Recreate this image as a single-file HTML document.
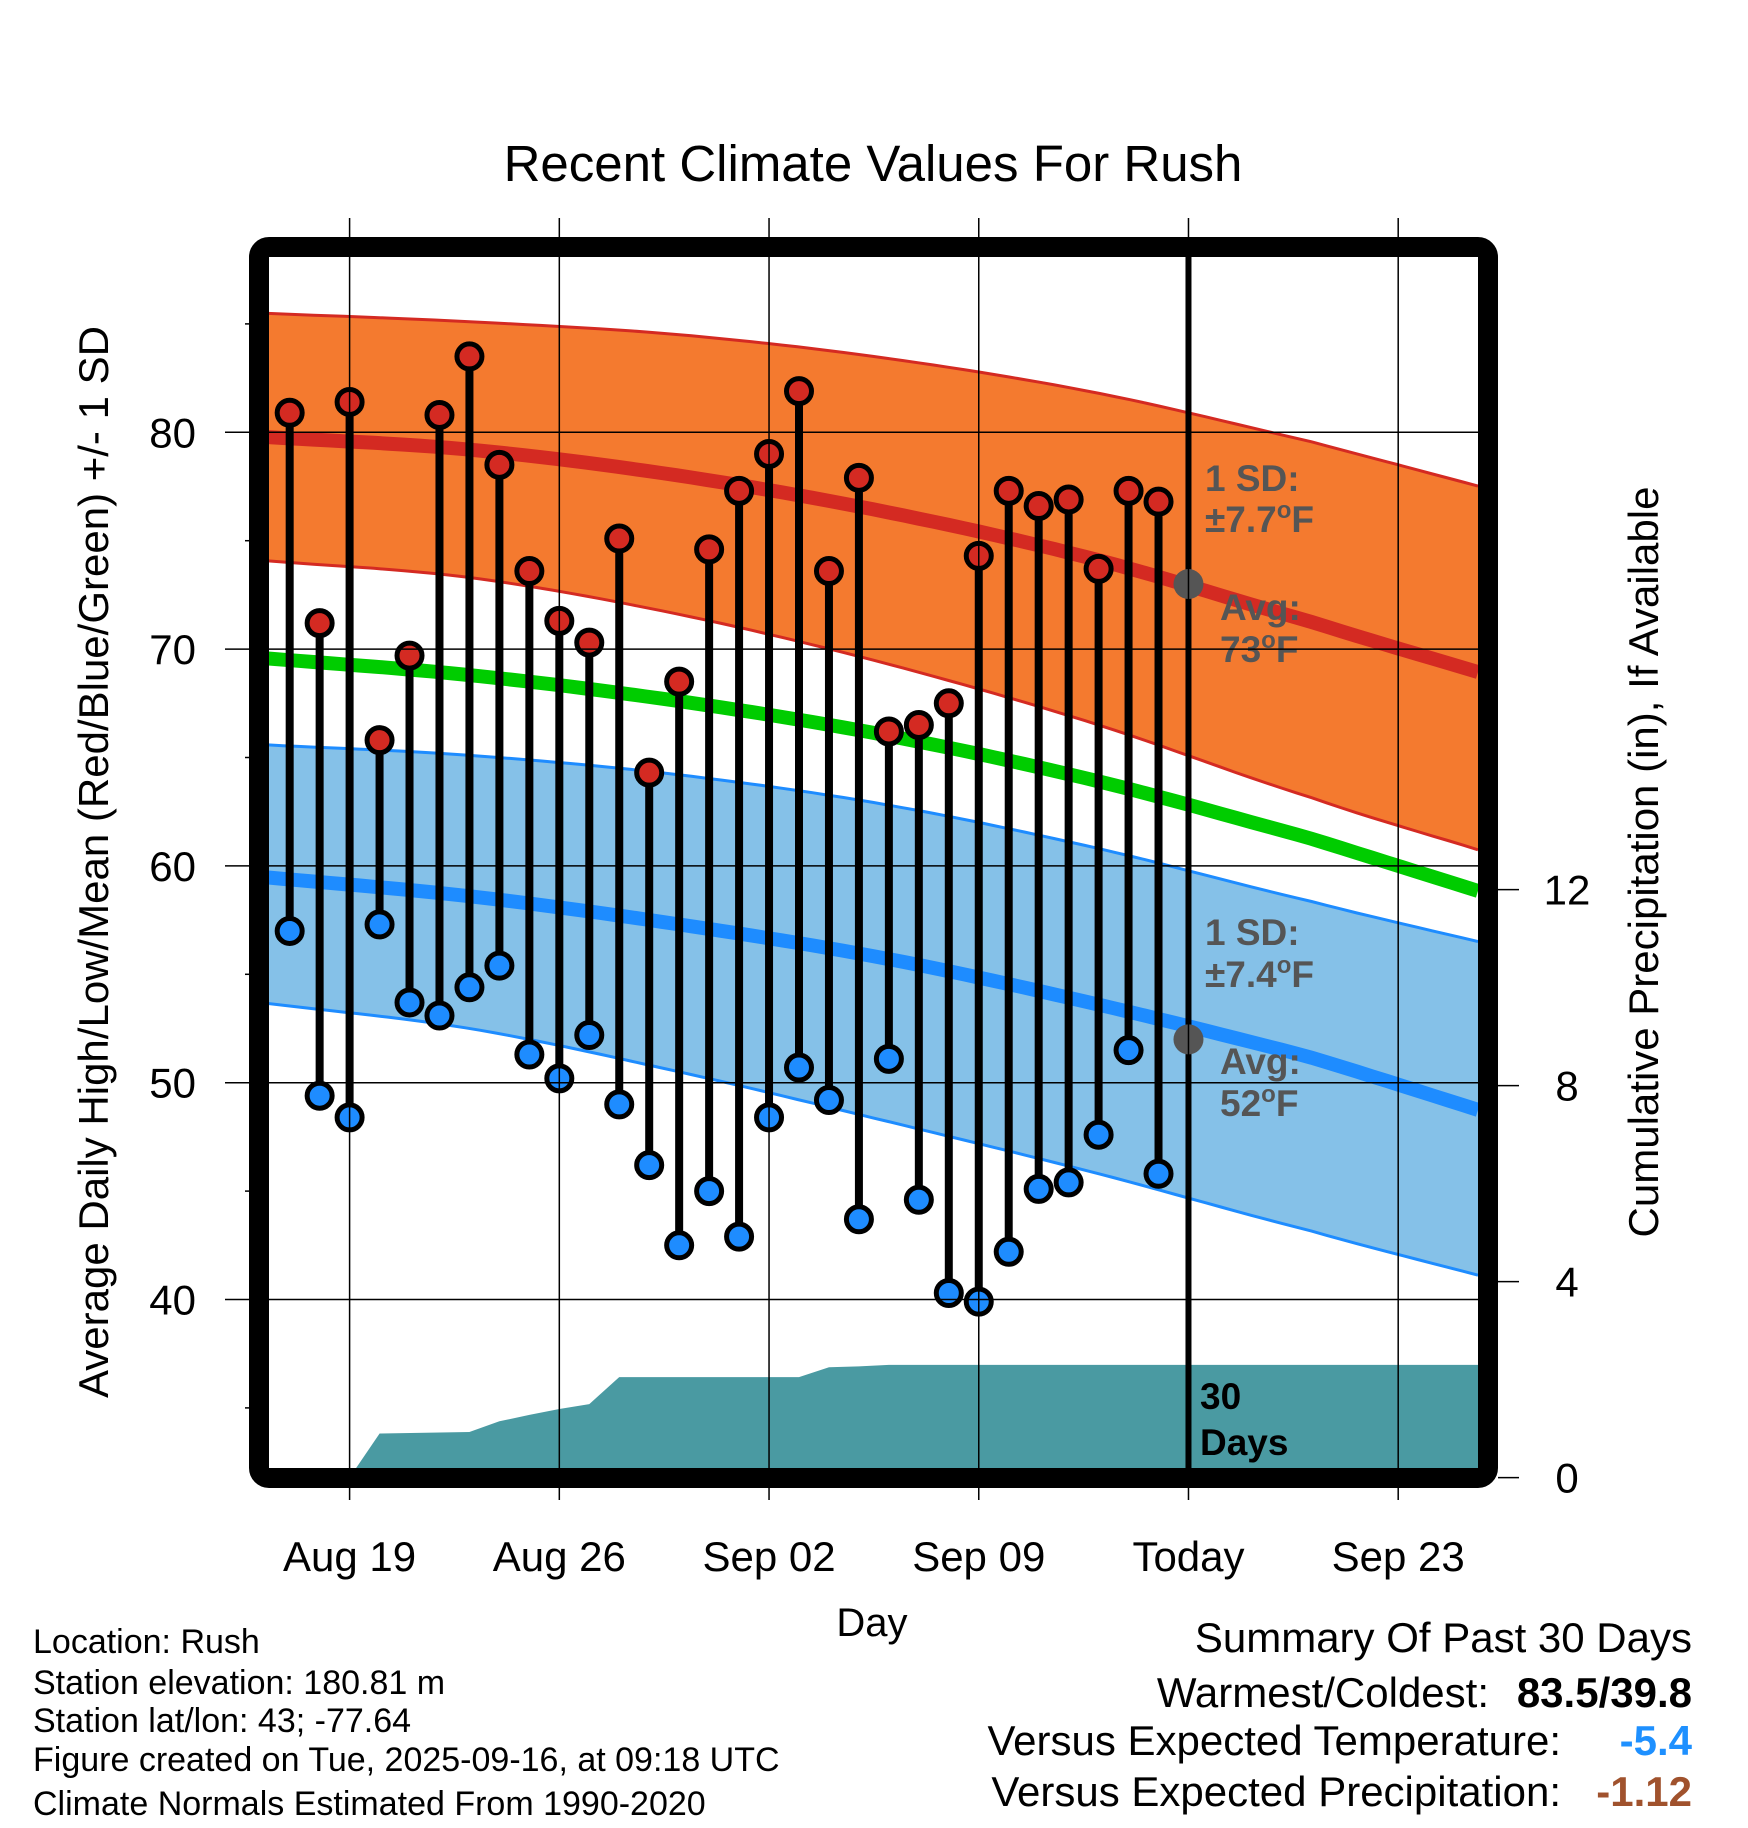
<!DOCTYPE html>
<html><head><meta charset="utf-8"><style>
html,body{margin:0;padding:0;background:#fff}
svg{display:block;font-family:"Liberation Sans",sans-serif}
</style></head><body>
<svg id="c" width="1748" height="1828" viewBox="0 0 1748 1828" xmlns="http://www.w3.org/2000/svg">
<text x="873" y="181" font-size="51" text-anchor="middle">Recent Climate Values For Rush</text>
<g id="plot"></g>
<g id="axes"></g>
<text transform="translate(108,862) rotate(-90)" font-size="42" text-anchor="middle">Average Daily High/Low/Mean (Red/Blue/Green) +/- 1 SD</text>
<text transform="translate(1658,862) rotate(-90)" font-size="42" text-anchor="middle">Cumulative Precipitation (in), If Available</text>
<text x="872" y="1636" font-size="40" text-anchor="middle">Day</text>
<g font-size="34">
<text x="33" y="1653">Location: Rush</text>
<text x="33" y="1694">Station elevation: 180.81 m</text>
<text x="33" y="1732">Station lat/lon: 43; -77.64</text>
<text x="33" y="1771">Figure created on Tue, 2025-09-16, at 09:18 UTC</text>
<text x="33" y="1815">Climate Normals Estimated From 1990-2020</text>
</g>
<g font-size="42" text-anchor="end">
<text x="1692" y="1652">Summary Of Past 30 Days</text>
<text x="1489" y="1707">Warmest/Coldest:</text>
<text x="1692" y="1707" font-weight="bold">83.5/39.8</text>
<text x="1561" y="1755">Versus Expected Temperature:</text>
<text x="1692" y="1755" font-weight="bold" fill="#1e90ff">-5.4</text>
<text x="1561" y="1806">Versus Expected Precipitation:</text>
<text x="1692" y="1806" font-weight="bold" fill="#a0522d">-1.12</text>
</g>
</svg>
<script>
// days relative to Aug 19 (0 = Aug 19)
const normDays=[-3,4,11,18,25,32,38];
const highAvg=[79.8,79.2,78.0,76.3,74.1,71.3,68.8];
const highUp=[85.5,85.1,84.5,83.4,81.8,79.6,77.4];
const highLo=[74.1,73.3,71.6,69.3,66.5,63.2,60.6];
const meanAvg=[69.6,68.8,67.6,66.0,63.9,61.3,58.7];
const lowAvg=[59.5,58.6,57.3,55.7,53.6,51.2,48.6];
const lowUp=[65.6,65.1,64.2,62.8,60.8,58.4,56.4];
const lowLo=[53.7,52.5,50.5,48.2,45.8,43.2,41.0];
const obsStart=-2;
const highs=[80.9,71.2,81.4,65.8,69.7,80.8,83.5,78.5,73.6,71.3,70.3,75.1,64.3,68.5,74.6,77.3,79.0,81.9,73.6,77.9,66.2,66.5,67.5,74.3,77.3,76.6,76.9,73.7,77.3,76.8];
const lows=[57.0,49.4,48.4,57.3,53.7,53.1,54.4,55.4,51.3,50.2,52.2,49.0,46.2,42.5,45.0,42.9,48.4,50.7,49.2,43.7,51.1,44.6,40.3,39.9,42.2,45.1,45.4,47.6,51.5,45.8];
const precipDays=[0,1,4,5,6,7,8,9,15,16,17,18,38];
const precipVals=[0,0.9,0.93,1.15,1.28,1.4,1.5,2.05,2.05,2.25,2.27,2.3,2.3];
const xTickDays=[0,7,14,21,28,35];
const xTickLabels=["Aug 19","Aug 26","Sep 02","Sep 09","Today","Sep 23"];
const yTicks=[40,50,60,70,80];
const y2Ticks=[0,4,8,12];
const todayDay=28, avgHighToday=73, avgLowToday=52;

const L=268,R=1478,T=256,B=1468;
const X=d=>349.6+d*29.96;
const Y=v=>432.3+(80-v)*21.68;
const Y2=p=>1477.6-p*49;
const NS='http://www.w3.org/2000/svg';
const plot=document.getElementById('plot'), axes=document.getElementById('axes');
function mk(tag,at,parent){const e=document.createElementNS(NS,tag);for(const k in at)e.setAttribute(k,at[k]);(parent||plot).appendChild(e);return e;}
function curve(arr){const dL=(L-349.6)/29.96,dR=(R-349.6)/29.96;const pts=[];
 for(let i=0;i<=80;i++){const d=dL+(dR-dL)*i/80;pts.push([X(d),Y(interp(d,arr))]);}return pts;}
function interp(d,arr){let i=0;while(i<normDays.length-2&&d>normDays[i+1])i++;
 const a=normDays[i],b=normDays[i+1];const t=(d-a)/(b-a);
 const n=arr.length;
 const p1=arr[i],p2=arr[i+1];
 const p0=i>0?arr[i-1]:2*p1-p2, p3=i+2<n?arr[i+2]:2*p2-p1;
 return 0.5*((2*p1)+(-p0+p2)*t+(2*p0-5*p1+4*p2-p3)*t*t+(-p0+3*p1-3*p2+p3)*t*t*t);}
const ps=p=>p.map(q=>q[0].toFixed(1)+','+q[1].toFixed(1)).join(' ');
const defs=mk('clipPath',{id:'clip'});mk('rect',{x:L,y:T,width:R-L,height:B-T},defs);
const g=mk('g',{'clip-path':'url(#clip)'});


let up=curve(highUp),lo=curve(highLo);
let e=mk('polygon',{points:ps(up.concat(lo.slice().reverse())),fill:'#f47a2f'},g);


e=mk('polyline',{points:ps(up),fill:'none',stroke:'#d42a22','stroke-width':3},g);


e=mk('polyline',{points:ps(lo),fill:'none',stroke:'#d42a22','stroke-width':3},g);


up=curve(lowUp);lo=curve(lowLo);
e=mk('polygon',{points:ps(up.concat(lo.slice().reverse())),fill:'#85c1e8'},g);


e=mk('polyline',{points:ps(up),fill:'none',stroke:'#1e8cff','stroke-width':3},g);


e=mk('polyline',{points:ps(lo),fill:'none',stroke:'#1e8cff','stroke-width':3},g);


const pp=[[X(precipDays[0]),Y2(0)]];precipDays.forEach((d,i)=>pp.push([X(d),Y2(precipVals[i])]));
pp.push([X(precipDays[precipDays.length-1]),Y2(0)]);
e=mk('polygon',{points:ps(pp),fill:'#4a9aa2'},g);


yTicks.forEach(v=>{const l=mk('line',{x1:225,x2:R,y1:Y(v),y2:Y(v),stroke:'#000','stroke-width':1.5},axes);

});
xTickDays.forEach(d=>{const l=mk('line',{x1:X(d),x2:X(d),y1:218,y2:1500,stroke:'#000','stroke-width':1.5},plot);

});
e=mk('polyline',{points:ps(curve(meanAvg)),fill:'none',stroke:'#00cc00','stroke-width':14},g);


e=mk('polyline',{points:ps(curve(highAvg)),fill:'none',stroke:'#d42a22','stroke-width':14},g);


e=mk('polyline',{points:ps(curve(lowAvg)),fill:'none',stroke:'#1e8cff','stroke-width':14},g);


e=mk('line',{x1:X(todayDay),x2:X(todayDay),y1:T,y2:B,stroke:'#000','stroke-width':6},g);


highs.forEach((h,i)=>{const x=X(obsStart+i);
 const s=mk('line',{x1:x,x2:x,y1:Y(h),y2:Y(lows[i]),stroke:'#000','stroke-width':8},g);
 
 });
highs.forEach((h,i)=>{const x=X(obsStart+i);
 const a=mk('circle',{cx:x,cy:Y(h),r:12.5,fill:'#d42a22',stroke:'#000','stroke-width':5},g);
 
 
 const b=mk('circle',{cx:x,cy:Y(lows[i]),r:12.5,fill:'#1e8cff',stroke:'#000','stroke-width':5},g);
 
 });
e=mk('circle',{cx:X(todayDay),cy:Y(avgHighToday),r:15,fill:'#555'},g);


e=mk('circle',{cx:X(todayDay),cy:Y(avgLowToday),r:15,fill:'#555'},g);


function txt(x,y,s,attrs,name,parent){const t=mk('text',Object.assign({x:x,y:y},attrs),parent||plot);t.innerHTML=s;
 
 return t;}
const an={'font-size':37,'font-weight':'bold',fill:'#555'};
txt(1205,491,'1 SD:',an,'high-sd-label');
txt(1205,532,'±7.7<tspan dy="-14" font-size="24">o</tspan><tspan dy="14">F</tspan>',an,'high-sd-value');
txt(1220,620,'Avg:',an,'high-avg-label');
txt(1220,662,'73<tspan dy="-14" font-size="24">o</tspan><tspan dy="14">F</tspan>',an,'high-avg-value');
txt(1205,945,'1 SD:',an,'low-sd-label');
txt(1205,987,'±7.4<tspan dy="-14" font-size="24">o</tspan><tspan dy="14">F</tspan>',an,'low-sd-value');
txt(1220,1074,'Avg:',an,'low-avg-label');
txt(1220,1116,'52<tspan dy="-14" font-size="24">o</tspan><tspan dy="14">F</tspan>',an,'low-avg-value');
txt(1200,1409,'30',{'font-size':37,'font-weight':'bold',fill:'#000'},'precip-days-label');
txt(1200,1455,'Days',{'font-size':37,'font-weight':'bold',fill:'#000'},'precip-days-label-2');
e=mk('rect',{x:259,y:247,width:1229,height:1231,rx:10,fill:'none',stroke:'#000','stroke-width':20},axes);


for(let v=35;v<=85;v+=10){const l=mk('line',{x1:245,x2:249,y1:Y(v),y2:Y(v),stroke:'#000','stroke-width':1.5},axes);
 
 }
yTicks.forEach(v=>txt(196,Y(v)+15,v,{'font-size':42,'text-anchor':'end'},'y-tick-label',axes));
y2Ticks.forEach(p=>{const l=mk('line',{x1:1498,x2:1519,y1:Y2(p),y2:Y2(p),stroke:'#000','stroke-width':1.5},axes);
 
 
 txt(1567,Y2(p)+15,p,{'font-size':42,'text-anchor':'middle'},'y2-tick-label',axes);});
xTickDays.forEach((d,i)=>txt(X(d),1571,xTickLabels[i],{'font-size':42,'text-anchor':'middle'},'x-tick-label',axes));
</script>
</body></html>
